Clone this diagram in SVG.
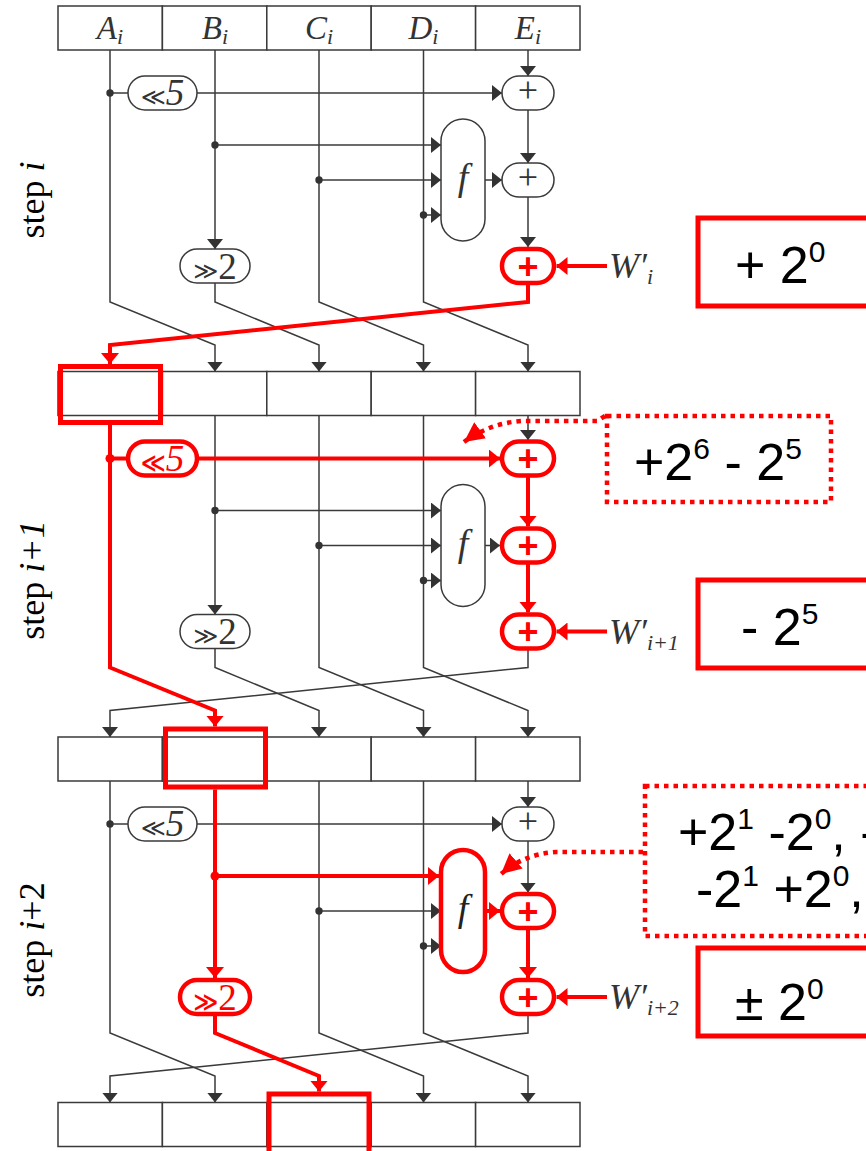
<svg xmlns="http://www.w3.org/2000/svg" width="866" height="1151" viewBox="0 0 866 1151">
<style>
.g{stroke:#3a3a3a;stroke-width:1.5;fill:none}
.r{stroke:#f00;stroke-width:4;fill:none}
.pg{fill:#fff;stroke:#3a3a3a;stroke-width:1.5}
.pr{fill:#fff;stroke:#f00;stroke-width:4.5}
.cell{fill:#fff;stroke:#3a3a3a;stroke-width:1.5}
.rb{fill:none;stroke:#f00;stroke-width:5}
.sb{fill:none;stroke:#f00;stroke-width:5}
.dt{fill:none;stroke:#f00;stroke-width:4.5;stroke-dasharray:4.5 5}
.dot{fill:#333}
.rdot{fill:#f00}
.ser{font-family:"Liberation Serif","Times New Roman",serif;fill:#333}
.it{font-family:"Liberation Serif","Times New Roman",serif;font-style:italic;fill:#333}
.sym{font-family:"DejaVu Sans",sans-serif;fill:#333}
.pl{font-family:"Liberation Serif",serif;font-size:36px;fill:#333;text-anchor:middle}
.rpl{font-family:"Liberation Sans",Arial,sans-serif;font-weight:bold;font-size:36px;fill:#f00;text-anchor:middle}
.big{font-family:"Liberation Sans",Arial,sans-serif;font-size:52px;fill:#000}
.lab{font-family:"Liberation Serif","Times New Roman",serif;font-size:36px;fill:#000}
</style>
<defs>
<marker id="ag" viewBox="0 0 10 16" refX="10" refY="8" markerWidth="10" markerHeight="16" markerUnits="userSpaceOnUse" orient="auto"><path d="M0,0L10,8L0,16z" fill="#333"/></marker>
<marker id="ar" viewBox="0 0 11 18" refX="11" refY="9" markerWidth="11" markerHeight="18" markerUnits="userSpaceOnUse" orient="auto"><path d="M0,0L11,9L0,18z" fill="#f00"/></marker>
<marker id="ad" viewBox="0 0 20 20" refX="20" refY="10" markerWidth="20" markerHeight="20" markerUnits="userSpaceOnUse" orient="auto"><path d="M0,0L20,10L0,20z" fill="#f00"/></marker>
</defs>
<rect width="866" height="1151" fill="#fff"/>

<g id="connectors">
<path class="g" d="M110,50V302L215,345V371.5" marker-end="url(#ag)"/>
<path class="g" d="M110,93H128"/>
<path class="g" d="M197,93H502" marker-end="url(#ag)"/>
<path class="g" d="M215,50V249" marker-end="url(#ag)"/>
<path class="g" d="M215,283V302L319,345V371.5" marker-end="url(#ag)"/>
<path class="g" d="M215,145H441" marker-end="url(#ag)"/>
<path class="g" d="M319,50V302L423.5,345V371.5" marker-end="url(#ag)"/>
<path class="g" d="M319,180H441" marker-end="url(#ag)"/>
<path class="g" d="M423.5,50V302L528,345V371.5" marker-end="url(#ag)"/>
<path class="g" d="M423.5,215H441" marker-end="url(#ag)"/>
<path class="g" d="M528,50V76" marker-end="url(#ag)"/>
<path class="g" d="M528,110V163" marker-end="url(#ag)"/>
<path class="g" d="M528,197V247" marker-end="url(#ag)"/>
<path class="g" d="M485,180H502" marker-end="url(#ag)"/>
<path class="g" d="M215,415.5V614.5" marker-end="url(#ag)"/>
<path class="g" d="M215,648.5V667.5L319,710.5V737" marker-end="url(#ag)"/>
<path class="g" d="M215,510.5H441" marker-end="url(#ag)"/>
<path class="g" d="M319,415.5V667.5L423.5,710.5V737" marker-end="url(#ag)"/>
<path class="g" d="M319,545.5H441" marker-end="url(#ag)"/>
<path class="g" d="M423.5,415.5V667.5L528,710.5V737" marker-end="url(#ag)"/>
<path class="g" d="M423.5,580.5H441" marker-end="url(#ag)"/>
<path class="g" d="M528,415.5V440" marker-end="url(#ag)"/>
<path class="g" d="M485,545.5H500" marker-end="url(#ag)"/>
<path class="g" d="M528,648.5V667.5L110,710.5V737" marker-end="url(#ag)"/>
<path class="g" d="M110,781V1033L215,1076V1102.5" marker-end="url(#ag)"/>
<path class="g" d="M110,824H128"/>
<path class="g" d="M197,824H502" marker-end="url(#ag)"/>
<path class="g" d="M319,781V1033L423.5,1076V1102.5" marker-end="url(#ag)"/>
<path class="g" d="M319,911H441" marker-end="url(#ag)"/>
<path class="g" d="M423.5,781V1033L528,1076V1102.5" marker-end="url(#ag)"/>
<path class="g" d="M423.5,946H441" marker-end="url(#ag)"/>
<path class="g" d="M528,781V807" marker-end="url(#ag)"/>
<path class="g" d="M528,841V892.5" marker-end="url(#ag)"/>
<path class="g" d="M528,1014V1033L110,1076V1102.5" marker-end="url(#ag)"/>
<path class="r" d="M528,283V302L110,345V364" marker-end="url(#ar)"/>
<path class="r" d="M607,266H556.5" marker-end="url(#ar)"/>
<path class="r" d="M110,425V667.5L215,710.5V726.5" marker-end="url(#ar)"/>
<path class="r" d="M110,458.5H128"/>
<path class="r" d="M197,458.5H500" marker-end="url(#ar)"/>
<path class="r" d="M528,475.5V526.5" marker-end="url(#ar)"/>
<path class="r" d="M528,562.5V612.5" marker-end="url(#ar)"/>
<path class="r" d="M607,631.5H556.5" marker-end="url(#ar)"/>
<path class="r" d="M215,789.5V978" marker-end="url(#ar)"/>
<path class="r" d="M215,876H439" marker-end="url(#ar)"/>
<path class="r" d="M215,1014V1033L319,1076V1091.5" marker-end="url(#ar)"/>
<path class="r" d="M485,911H500" marker-end="url(#ar)"/>
<path class="r" d="M528,928V978" marker-end="url(#ar)"/>
<path class="r" d="M607,997H556.5" marker-end="url(#ar)"/>
<circle class="dot" cx="110" cy="93" r="3.7"/>
<circle class="dot" cx="215" cy="145" r="3.7"/>
<circle class="dot" cx="319" cy="180" r="3.7"/>
<circle class="dot" cx="423.5" cy="215" r="3.7"/>
<circle class="rdot" cx="110" cy="458.5" r="4.5"/>
<circle class="dot" cx="215" cy="510.5" r="3.7"/>
<circle class="dot" cx="319" cy="545.5" r="3.7"/>
<circle class="dot" cx="423.5" cy="580.5" r="3.7"/>
<circle class="dot" cx="110" cy="824" r="3.7"/>
<circle class="rdot" cx="215" cy="876" r="4.5"/>
<circle class="dot" cx="319" cy="911" r="3.7"/>
<circle class="dot" cx="423.5" cy="946" r="3.7"/>
<path class="dt" d="M605,416L597,421H522Q490,423 464,442" marker-end="url(#ad)"/>
<path class="dt" d="M643,852H556Q524,854 501,874" marker-end="url(#ad)"/>
</g>

<g id="reg-i">
<rect class="cell" x="58" y="6" width="104.4" height="44"/>
<rect class="cell" x="162.4" y="6" width="104.4" height="44"/>
<rect class="cell" x="266.8" y="6" width="104.4" height="44"/>
<rect class="cell" x="371.2" y="6" width="104.4" height="44"/>
<rect class="cell" x="475.6" y="6" width="104.4" height="44"/>
<text class="it" x="110" y="39" font-size="33" text-anchor="middle">A<tspan font-size="22" dy="5">i</tspan></text>
<text class="it" x="215" y="39" font-size="33" text-anchor="middle">B<tspan font-size="22" dy="5">i</tspan></text>
<text class="it" x="319" y="39" font-size="33" text-anchor="middle">C<tspan font-size="22" dy="5">i</tspan></text>
<text class="it" x="423.5" y="39" font-size="33" text-anchor="middle">D<tspan font-size="22" dy="5">i</tspan></text>
<text class="it" x="528" y="39" font-size="33" text-anchor="middle">E<tspan font-size="22" dy="5">i</tspan></text>
</g>
<g id="reg-i1">
<rect class="cell" x="58" y="371.5" width="104.4" height="44"/>
<rect class="cell" x="162.4" y="371.5" width="104.4" height="44"/>
<rect class="cell" x="266.8" y="371.5" width="104.4" height="44"/>
<rect class="cell" x="371.2" y="371.5" width="104.4" height="44"/>
<rect class="cell" x="475.6" y="371.5" width="104.4" height="44"/>
<rect class="rb" x="60.5" y="366.5" width="100" height="56"/>
</g>
<g id="reg-i2">
<rect class="cell" x="58" y="737" width="104.4" height="44"/>
<rect class="cell" x="162.4" y="737" width="104.4" height="44"/>
<rect class="cell" x="266.8" y="737" width="104.4" height="44"/>
<rect class="cell" x="371.2" y="737" width="104.4" height="44"/>
<rect class="cell" x="475.6" y="737" width="104.4" height="44"/>
<rect class="rb" x="165.5" y="729" width="100" height="58"/>
</g>
<g id="reg-i3">
<rect class="cell" x="58" y="1102.5" width="104.4" height="44"/>
<rect class="cell" x="162.4" y="1102.5" width="104.4" height="44"/>
<rect class="cell" x="266.8" y="1102.5" width="104.4" height="44"/>
<rect class="cell" x="371.2" y="1102.5" width="104.4" height="44"/>
<rect class="cell" x="475.6" y="1102.5" width="104.4" height="44"/>
<rect class="rb" x="269" y="1094" width="100" height="80"/>
</g>

<g id="rot5-i"><rect class="pg" x="128" y="76" width="69" height="34" rx="17"/><text x="162.5" y="105" text-anchor="middle"><tspan class="sym" font-size="24">≪</tspan><tspan class="it" font-size="37">5</tspan></text></g>
<g id="add1-i"><rect class="pg" x="502" y="76" width="52" height="34" rx="17"/><text class="pl" x="528" y="102">+</text></g>
<g id="f-i"><rect class="pg" x="441" y="119" width="44" height="122" rx="22"/><text class="it" x="463" y="190" font-size="38" text-anchor="middle">f</text></g>
<g id="add2-i"><rect class="pg" x="502" y="163" width="52" height="34" rx="17"/><text class="pl" x="528" y="189">+</text></g>
<g id="add3-i"><rect class="pr" x="502" y="249" width="52" height="34" rx="17"/><text class="rpl" x="528" y="278.5">+</text></g>
<g id="rot2-i"><rect class="pg" x="180" y="249" width="70" height="34" rx="17"/><text x="215" y="278.5" text-anchor="middle"><tspan class="sym" font-size="24">≫</tspan><tspan class="ser" font-size="37">2</tspan></text></g>
<g id="w-i"><text class="it" x="609" y="278" font-size="36">W′<tspan font-size="22" dy="6">i</tspan></text></g>

<g id="rot5-i1"><rect class="pr" x="128" y="441.5" width="69" height="34" rx="17"/><text x="162.5" y="470.5" text-anchor="middle"><tspan font-family="DejaVu Sans" font-weight="bold" font-size="24" fill="#f00">≪</tspan><tspan font-family="Liberation Serif" font-style="italic" font-size="37" fill="#f00">5</tspan></text></g>
<g id="add1-i1"><rect class="pr" x="502" y="441.5" width="52" height="34" rx="17"/><text class="rpl" x="528" y="471">+</text></g>
<g id="f-i1"><rect class="pg" x="441" y="484.5" width="44" height="122" rx="22"/><text class="it" x="463" y="555.5" font-size="38" text-anchor="middle">f</text></g>
<g id="add2-i1"><rect class="pr" x="502" y="528.5" width="52" height="34" rx="17"/><text class="rpl" x="528" y="558">+</text></g>
<g id="add3-i1"><rect class="pr" x="502" y="614.5" width="52" height="34" rx="17"/><text class="rpl" x="528" y="644">+</text></g>
<g id="rot2-i1"><rect class="pg" x="180" y="614.5" width="70" height="34" rx="17"/><text x="215" y="644" text-anchor="middle"><tspan class="sym" font-size="24">≫</tspan><tspan class="ser" font-size="37">2</tspan></text></g>
<g id="w-i1"><text class="it" x="609" y="643.5" font-size="36">W′<tspan font-size="22" dy="6">i+1</tspan></text></g>

<g id="rot5-i2"><rect class="pg" x="128" y="807" width="69" height="34" rx="17"/><text x="162.5" y="836" text-anchor="middle"><tspan class="sym" font-size="24">≪</tspan><tspan class="it" font-size="37">5</tspan></text></g>
<g id="add1-i2"><rect class="pg" x="502" y="807" width="52" height="34" rx="17"/><text class="pl" x="528" y="833">+</text></g>
<g id="f-i2"><rect class="pr" x="441" y="850" width="44" height="122" rx="22"/><text class="it" x="463" y="921" font-size="38" text-anchor="middle" style="fill:#222">f</text></g>
<g id="add2-i2"><rect class="pr" x="502" y="894" width="52" height="34" rx="17"/><text class="rpl" x="528" y="923.5">+</text></g>
<g id="add3-i2"><rect class="pr" x="502" y="980" width="52" height="34" rx="17"/><text class="rpl" x="528" y="1009.5">+</text></g>
<g id="rot2-i2"><rect class="pr" x="180" y="980" width="70" height="34" rx="17"/><text x="215" y="1009.5" text-anchor="middle"><tspan font-family="DejaVu Sans" font-weight="bold" font-size="24" fill="#f00">≫</tspan><tspan font-family="Liberation Serif" font-size="37" fill="#f00">2</tspan></text></g>
<g id="w-i2"><text class="it" x="609" y="1009" font-size="36">W′<tspan font-size="22" dy="6">i+2</tspan></text></g>

<g id="label-i"><text class="lab" transform="translate(44,200) rotate(-90)" text-anchor="middle">step <tspan font-style="italic">i</tspan></text></g>
<g id="label-i1"><text class="lab" transform="translate(44,580) rotate(-90)" text-anchor="middle">step <tspan font-style="italic">i+1</tspan></text></g>
<g id="label-i2"><text class="lab" transform="translate(44,940) rotate(-90)" text-anchor="middle">step <tspan font-style="italic">i</tspan>+2</text></g>

<g id="note-wi"><rect class="sb" x="698" y="218" width="200" height="88"/><text class="big" x="735" y="283">+ 2<tspan font-size="30" dy="-21">0</tspan></text></g>
<g id="note-a1"><rect class="dt" x="607" y="416" width="224" height="86"/><text class="big" x="634" y="480">+2<tspan font-size="30" dy="-21">6</tspan><tspan dy="21"> - 2</tspan><tspan font-size="30" dy="-21">5</tspan></text></g>
<g id="note-wi1"><rect class="sb" x="698" y="580" width="200" height="88"/><text class="big" x="741" y="645">- 2<tspan font-size="30" dy="-21">5</tspan></text></g>
<g id="note-a2"><rect class="dt" x="645" y="786" width="260" height="150"/><text class="big" x="678" y="850">+2<tspan font-size="30" dy="-21">1</tspan><tspan dy="21"> -2</tspan><tspan font-size="30" dy="-21">0</tspan><tspan dy="21">, -</tspan></text><text class="big" x="696" y="907">-2<tspan font-size="30" dy="-21">1</tspan><tspan dy="21"> +2</tspan><tspan font-size="30" dy="-21">0</tspan><tspan dy="21">,</tspan></text></g>
<g id="note-wi2"><rect class="sb" x="698" y="948" width="200" height="88"/><text class="big" x="735" y="1020">± 2<tspan font-size="30" dy="-21">0</tspan></text></g>
</svg>
